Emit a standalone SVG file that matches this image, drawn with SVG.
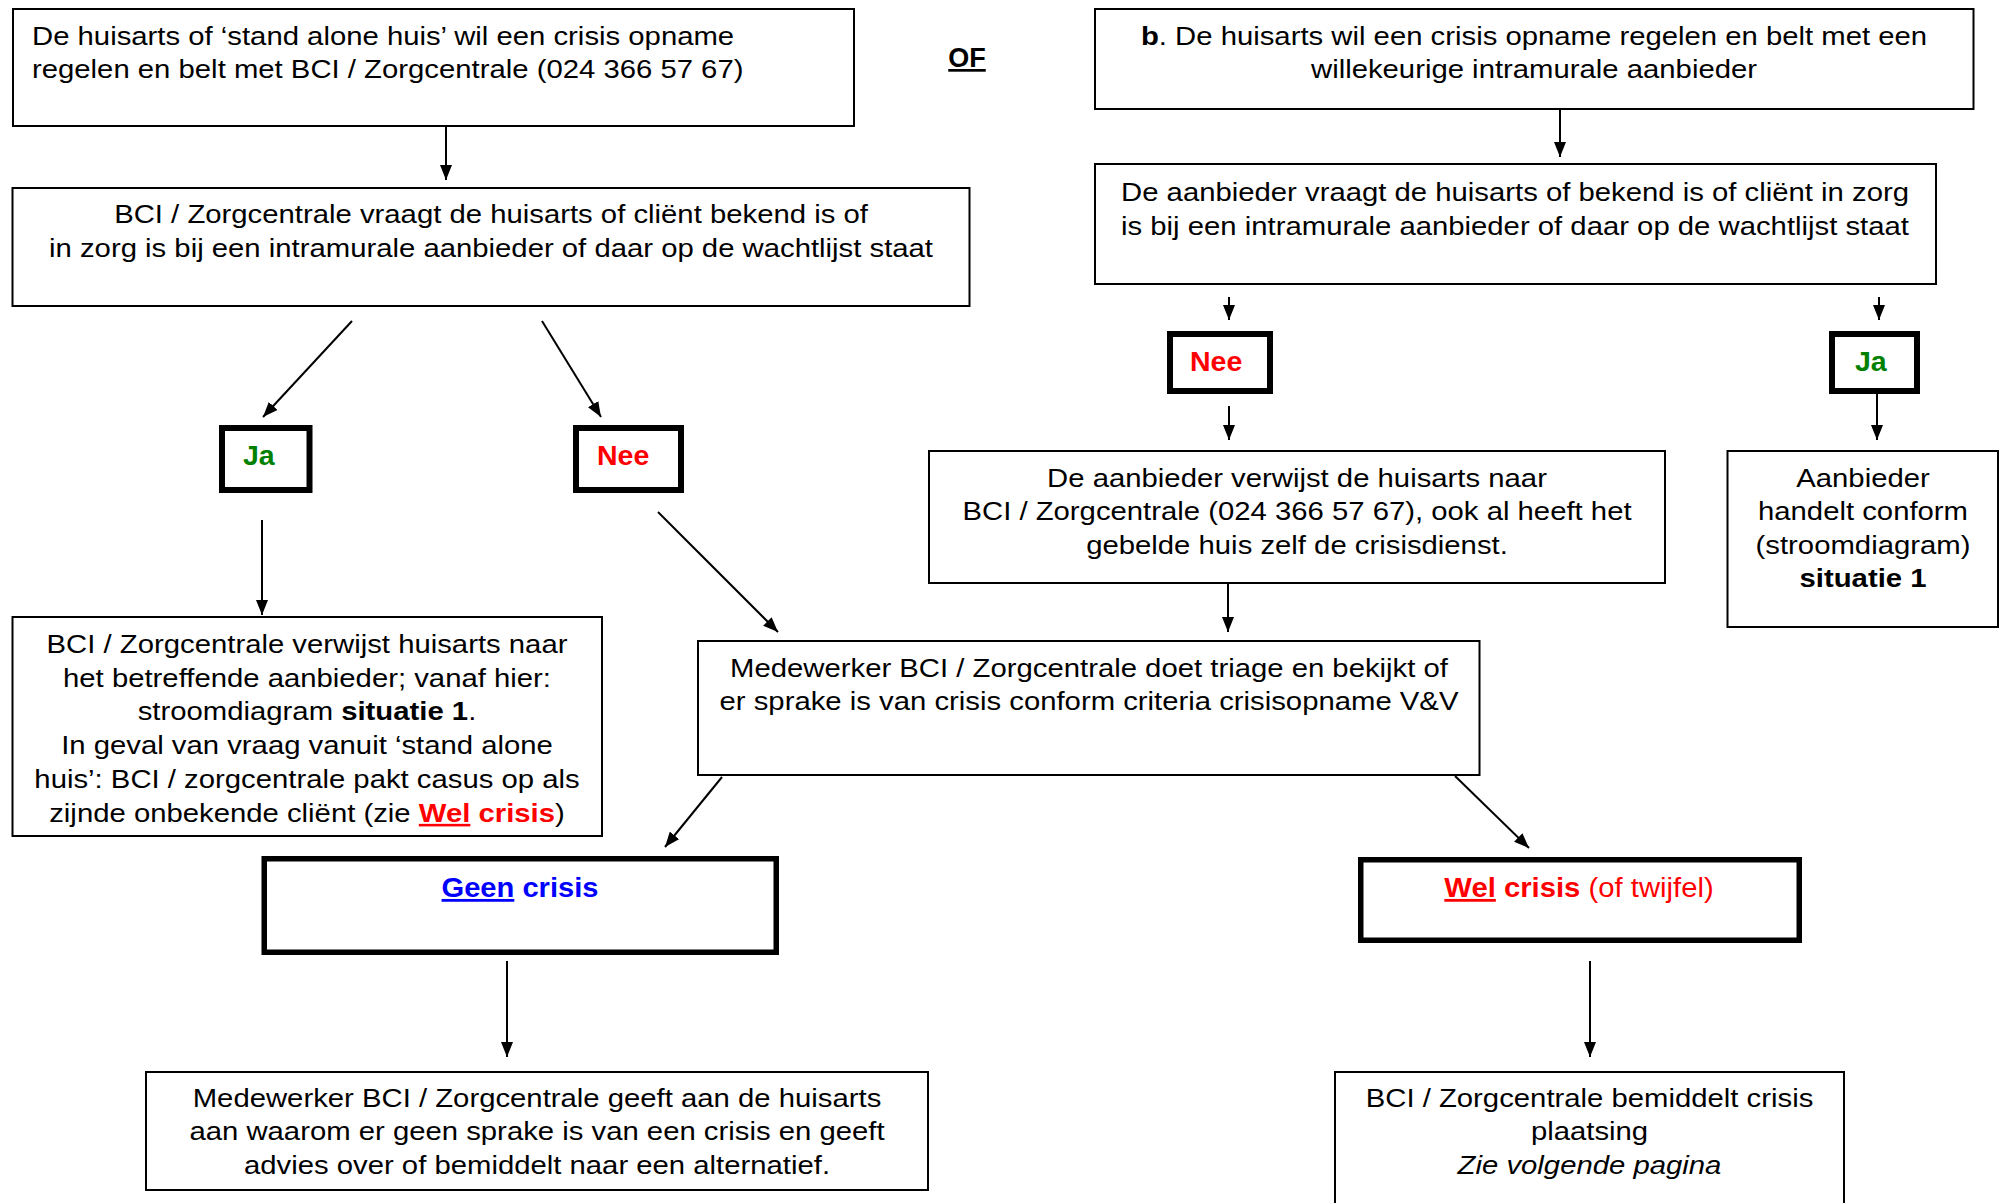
<svg xmlns="http://www.w3.org/2000/svg" width="2002" height="1203" viewBox="0 0 2002 1203">
<style>
.box{fill:#fff;stroke:#000;stroke-width:2}
.thick{fill:#fff;stroke:#000;stroke-width:6}
.thick2{fill:#fff;stroke:#000;stroke-width:5.5}
.t{font-family:"Liberation Sans",Arial,Helvetica,sans-serif;font-size:25.5px;fill:#000}
.lbl{font-family:"Liberation Sans",Arial,Helvetica,sans-serif;font-size:28.5px;font-weight:bold}
.big{font-family:"Liberation Sans",Arial,Helvetica,sans-serif;font-size:28px}
.c{text-anchor:middle}
.b{font-weight:bold}
.red{fill:#ff0000}
.green{fill:#008000}
.blue{fill:#0000ff}
.u{text-decoration:underline}
#connectors line{stroke:#000;stroke-width:2;marker-end:url(#ah)}
</style>
<defs>
<marker id="ah" markerUnits="userSpaceOnUse" viewBox="0 0 15 12" refX="15" refY="6" markerWidth="15" markerHeight="12" orient="auto">
<path d="M0,0 L15,6 L0,12 z" fill="#000"/>
</marker>
</defs>
<rect width="2002" height="1203" fill="#fff"/>

<g id="connectors">
<line x1="446" y1="127" x2="446" y2="180"/>
<line x1="1560" y1="110" x2="1560" y2="157"/>
<line x1="352" y1="321" x2="263" y2="417"/>
<line x1="542" y1="321" x2="601" y2="417"/>
<line x1="262" y1="520" x2="262" y2="615"/>
<line x1="658" y1="512" x2="778" y2="632"/>
<line x1="1229" y1="297" x2="1229" y2="320"/>
<line x1="1879" y1="297" x2="1879" y2="320"/>
<line x1="1229" y1="406" x2="1229" y2="440"/>
<line x1="1877" y1="394" x2="1877" y2="440"/>
<line x1="1228" y1="584" x2="1228" y2="632"/>
<line x1="722" y1="777" x2="665" y2="847"/>
<line x1="1455" y1="776" x2="1529" y2="848"/>
<line x1="507" y1="961" x2="507" y2="1057"/>
<line x1="1590" y1="961" x2="1590" y2="1057"/>
</g>

<g id="node-start-a">
<rect class="box" x="13" y="9" width="841" height="117"/>
<g transform="translate(32 0) scale(1.149 1)">
<text class="t" x="0" y="45">De huisarts of ‘stand alone huis’ wil een crisis opname</text>
<text class="t" x="0" y="78">regelen en belt met BCI / Zorgcentrale (024 366 57 67)</text>
</g>
</g>

<g id="node-of">
<text class="lbl c u" x="967" y="67" style="font-size:27px">OF</text>
</g>

<g id="node-start-b">
<rect class="box" x="1095" y="9" width="878.5" height="100"/>
<g transform="translate(1534 0) scale(1.149 1)">
<text class="t c" x="0" y="45"><tspan class="b">b</tspan>. De huisarts wil een crisis opname regelen en belt met een</text>
<text class="t c" x="0" y="78">willekeurige intramurale aanbieder</text>
</g>
</g>

<g id="node-bci-vraagt">
<rect class="box" x="12.5" y="188" width="957" height="118"/>
<g transform="translate(491 0) scale(1.149 1)">
<text class="t c" x="0" y="223">BCI / Zorgcentrale vraagt de huisarts of cliënt bekend is of</text>
<text class="t c" x="0" y="257">in zorg is bij een intramurale aanbieder of daar op de wachtlijst staat</text>
</g>
</g>

<g id="node-aanbieder-vraagt">
<rect class="box" x="1095" y="164" width="841" height="120"/>
<g transform="translate(1515 0) scale(1.149 1)">
<text class="t c" x="0" y="201">De aanbieder vraagt de huisarts of bekend is of cliënt in zorg</text>
<text class="t c" x="0" y="235">is bij een intramurale aanbieder of daar op de wachtlijst staat</text>
</g>
</g>

<g id="node-ja-left">
<rect class="thick" x="222" y="428" width="87.5" height="62"/>
<text class="lbl green" x="243" y="465">Ja</text>
</g>

<g id="node-nee-left">
<rect class="thick" x="576" y="428" width="105" height="62"/>
<text class="lbl red" x="597" y="465">Nee</text>
</g>

<g id="node-nee-right">
<rect class="thick" x="1170" y="334" width="100" height="57"/>
<text class="lbl red" x="1190" y="371">Nee</text>
</g>

<g id="node-ja-right">
<rect class="thick" x="1832" y="334" width="85" height="57"/>
<text class="lbl green" x="1855" y="371">Ja</text>
</g>

<g id="node-aanbieder-verwijst">
<rect class="box" x="929" y="451" width="736" height="132"/>
<g transform="translate(1297 0) scale(1.149 1)">
<text class="t c" x="0" y="487">De aanbieder verwijst de huisarts naar</text>
<text class="t c" x="0" y="520.5">BCI / Zorgcentrale (024 366 57 67), ook al heeft het</text>
<text class="t c" x="0" y="554">gebelde huis zelf de crisisdienst.</text>
</g>
</g>

<g id="node-aanbieder-handelt">
<rect class="box" x="1727.5" y="451" width="270.5" height="176"/>
<g transform="translate(1863 0) scale(1.149 1)">
<text class="t c" x="0" y="487">Aanbieder</text>
<text class="t c" x="0" y="520.5">handelt conform</text>
<text class="t c" x="0" y="554">(stroomdiagram)</text>
<text class="t c b" x="0" y="587.5">situatie 1</text>
</g>
</g>

<g id="node-bci-verwijst">
<rect class="box" x="12.5" y="617" width="589.5" height="219"/>
<g transform="translate(307 0) scale(1.149 1)">
<text class="t c" x="0" y="653">BCI / Zorgcentrale verwijst huisarts naar</text>
<text class="t c" x="0" y="687">het betreffende aanbieder; vanaf hier:</text>
<text class="t c" x="0" y="720">stroomdiagram <tspan class="b">situatie 1</tspan>.</text>
<text class="t c" x="0" y="754">In geval van vraag vanuit ‘stand alone</text>
<text class="t c" x="0" y="788">huis’: BCI / zorgcentrale pakt casus op als</text>
<text class="t c" x="0" y="822">zijnde onbekende cliënt (zie <tspan class="b red u">Wel</tspan><tspan class="b red"> crisis</tspan>)</text>
</g>
</g>

<g id="node-triage">
<rect class="box" x="698" y="641" width="781.5" height="134"/>
<g transform="translate(1089 0) scale(1.149 1)">
<text class="t c" x="0" y="677">Medewerker BCI / Zorgcentrale doet triage en bekijkt of</text>
<text class="t c" x="0" y="710">er sprake is van crisis conform criteria crisisopname V&amp;V</text>
</g>
</g>

<g id="node-geen-crisis">
<rect class="thick2" x="264.25" y="858.75" width="512" height="93.5"/>
<g transform="translate(520 0) scale(1.04 1)">
<text class="big c b blue" x="0" y="897"><tspan class="u">Geen</tspan> crisis</text>
</g>
</g>

<g id="node-wel-crisis">
<rect class="thick2" x="1360.75" y="859.75" width="438.5" height="80.5"/>
<g transform="translate(1579 0) scale(1.045 1)">
<text class="big c red" x="0" y="897"><tspan class="b u">Wel</tspan><tspan class="b"> crisis</tspan> (of twijfel)</text>
</g>
</g>

<g id="node-geen-advies">
<rect class="box" x="146" y="1072" width="782" height="118"/>
<g transform="translate(537 0) scale(1.149 1)">
<text class="t c" x="0" y="1107">Medewerker BCI / Zorgcentrale geeft aan de huisarts</text>
<text class="t c" x="0" y="1140">aan waarom er geen sprake is van een crisis en geeft</text>
<text class="t c" x="0" y="1174">advies over of bemiddelt naar een alternatief.</text>
</g>
</g>

<g id="node-bemiddelt">
<rect class="box" x="1335" y="1072" width="509" height="140"/>
<g transform="translate(1589.5 0) scale(1.149 1)">
<text class="t c" x="0" y="1107">BCI / Zorgcentrale bemiddelt crisis</text>
<text class="t c" x="0" y="1140">plaatsing</text>
<text class="t c" x="0" y="1174" font-style="italic">Zie volgende pagina</text>
</g>
</g>
</svg>
